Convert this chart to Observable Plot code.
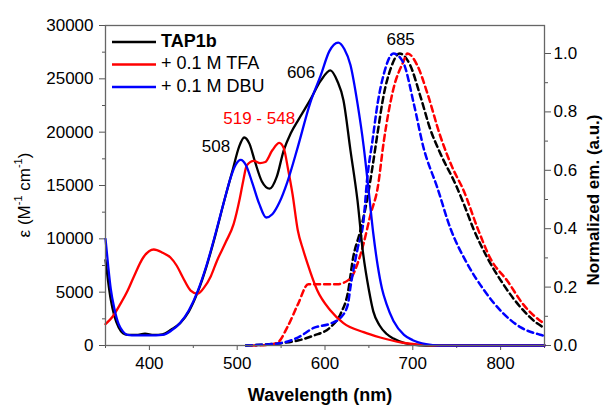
<!DOCTYPE html>
<html><head><meta charset="utf-8">
<script src="https://cdn.jsdelivr.net/npm/d3@7"></script>
<script src="https://cdn.jsdelivr.net/npm/@observablehq/plot@0.6"></script>
<style>body{margin:0;background:#fff;} svg{font-family: Arial, "Liberation Sans", sans-serif;}</style>
</head><body><div id="chart"></div>
<script>
// ---- Absorption (molar extinction, left axis) ----
const absWlBlack = [350,353,356,360,365,370,375,385,395,405,415,425,435,445,455,465,475,485,495,502,508,514,520,528,537,545,553,561,570,583,595,606,614,621,629,637,643,650,655,662,670,678,690,700,715,850];
const absBlack   = [8000,6000,4300,2800,1700,1150,1000,1000,1100,1000,1050,1500,2100,3200,5000,7400,10300,13500,16500,18600,19500,18900,17300,15400,14700,15800,18300,19900,21200,23000,24800,25800,24800,23000,18300,13600,8900,5200,3200,1900,1100,650,250,80,0,0];

const absWlRed = [350,358,367,375,382,393,405,415,424,431,438,447,455,462,470,477,487,496,503,507,511,519,526,532,540,548,553,558,563,569,575,580,591,606,621,644,663,686,705,725,850];
const absRed   = [2000,2700,3900,5100,6400,8250,9000,8700,8250,7500,6400,5150,4850,5400,6500,7950,9700,11400,13800,15500,16900,17300,17100,17200,18300,19000,18500,16500,14200,10800,9000,7700,5200,3300,2100,1250,750,300,100,0,0];

const absWlBlue = [350,353,356,360,365,370,375,385,400,415,425,435,445,455,465,475,485,492,498,504,510,517,525,533,540,548,557,569,583,595,605,615,622,629,637,644,650,655,660,665,670,678,690,700,715,730,850];
const absBlue   = [10000,7500,5300,3500,2000,1300,1000,950,950,1000,1400,2100,3300,5100,7500,10400,13500,15600,16900,17400,16900,15300,13300,12000,12300,13400,15300,18600,22700,25300,27600,28400,27800,26300,22700,18700,14300,10500,7500,5300,3900,2300,1000,500,130,0,0];

// ---- Normalized emission (right axis) ----
const emWlBlack = [510,530,550,569,587,606,618,626,632,640,648,654,660,667,675,685,697,709,720,731,749,760,769,785,803,823,842,850];
const emBlack   = [0,0.003,0.008,0.017,0.034,0.062,0.11,0.18,0.30,0.39,0.50,0.61,0.73,0.86,0.95,1.0,0.96,0.85,0.74,0.66,0.55,0.47,0.40,0.30,0.21,0.13,0.075,0.06];

const emWlRed = [515,535,546,557,569,581,595,614,629,637,644,652,660,667,678,689,694,705,717,731,745,758,774,788,808,826,845,850];
const emRed   = [0,0.002,0.01,0.062,0.14,0.21,0.21,0.21,0.23,0.28,0.35,0.45,0.54,0.70,0.88,0.97,1.0,0.96,0.86,0.72,0.61,0.53,0.40,0.30,0.22,0.14,0.085,0.075];

const emWlBlue = [510,530,549,569,587,606,618,626,629,637,644,648,654,660,667,678,689,701,712,728,743,762,781,803,823,845,850];
const emBlue   = [0,0.003,0.008,0.027,0.06,0.075,0.096,0.14,0.20,0.33,0.43,0.57,0.70,0.83,0.93,1.0,0.97,0.83,0.68,0.54,0.40,0.28,0.19,0.11,0.062,0.037,0.033];

// ---- Ticks / labels ----
const xTicks = [400,500,600,700,800];
const xMinor = [350,450,550,650,750,850];
const yTicks = [0,5000,10000,15000,20000,25000,30000];
const yMinor = [2500,7500,12500,17500,22500,27500];
const emTicks = [0,0.2,0.4,0.6,0.8,1.0];
const emMinor = [0.1,0.3,0.5,0.7,0.9];
const seriesNames = ["TAP1b","+ 0.1 M TFA","+ 0.1 M DBU"];
const colors = ["#000000","#ff0000","#0000ff"];
const peakLabels = ["508","519 - 548","606","685"];

const K = 27375; // 1.0 normalized emission in left-axis units

const rows = (wl, v) => wl.map((w,i)=>({wl:w, v:v[i]}));
const aB = rows(absWlBlack,absBlack), aR = rows(absWlRed,absRed), aU = rows(absWlBlue,absBlue);
const eB = rows(emWlBlack,emBlack), eR = rows(emWlRed,emRed), eU = rows(emWlBlue,emBlue);

const sw = 2.3, dash = "6,4";
const emLine = (d,c) => Plot.line(d,{x:"wl", y: r=>r.v*K, stroke:c, strokeWidth:2.5, strokeDasharray:dash, curve:"monotone-x"});
const abLine = (d,c) => Plot.line(d,{x:"wl", y:"v", stroke:c, strokeWidth:sw, curve:"monotone-x"});

const tickColor = "#555";
const plot = Plot.plot({
  width: 604, height: 407,
  marginLeft: 105, marginRight: 60, marginTop: 25, marginBottom: 62,
  style: {fontFamily: "Arial, 'Liberation Sans', sans-serif", fontSize: "17px", color: "#000", background: "#fff"},
  x: {domain: [350,850]},
  y: {domain: [0,30000]},
  marks: [
    Plot.axisY({ticks: yTicks, tickFormat: d => String(d), tickSize: 6, tickPadding: 6, label: null, fontSize: 17, stroke: tickColor}),
    Plot.axisY({ticks: yMinor, tickSize: 3, tickFormat: () => "", label: null, stroke: tickColor}),
    Plot.axisY({anchor: "right", ticks: emTicks.map(v=>v*K), tickFormat: d => (d/K).toFixed(1), tickSize: 6, tickPadding: 3, label: null, fontSize: 17, stroke: tickColor}),
    Plot.axisY({anchor: "right", ticks: emMinor.map(v=>v*K), tickFormat: () => "", tickSize: 3, label: null, stroke: tickColor}),
    Plot.axisX({ticks: xTicks, tickFormat: d => String(d), tickSize: 5, tickPadding: 6, label: null, fontSize: 17, stroke: tickColor}),
    Plot.axisX({ticks: xMinor, tickSize: 3, tickFormat: () => "", label: null, stroke: tickColor}),
    emLine(eB, colors[0]), emLine(eR, colors[1]), emLine(eU, colors[2]),
    abLine(aB, colors[0]), abLine(aR, colors[1]), abLine(aU, colors[2]),
    Plot.frame({stroke: "#666", strokeWidth: 1.3}),
    Plot.text([peakLabels[0]], {x: () => 508, y: () => 19500, text: d=>d, textAnchor: "end", dx: -14, dy: 9, fontSize: 17, fill: "#000"}),
    Plot.text([peakLabels[1]], {x: () => 533, y: () => 19000, text: d=>d, textAnchor: "middle", dx: -7, dy: -24, fontSize: 17, fill: "#ff0000"}),
    Plot.text([peakLabels[2]], {x: () => 606, y: () => 25800, text: d=>d, textAnchor: "end", dx: -15, dy: 2, fontSize: 17, fill: "#000"}),
    Plot.text([peakLabels[3]], {x: () => 685, y: () => 1.0*K, text: d=>d, textAnchor: "middle", dx: 1, dy: -14, fontSize: 17, fill: "#000"})
  ]
});
document.getElementById("chart").appendChild(plot);

// ---- axis titles & legend ----
const svg = d3.select(plot);
svg.append("text").attr("x", 320).attr("y", 396).attr("text-anchor","middle").attr("dominant-baseline","middle")
  .attr("font-size", 18).attr("font-weight","bold").attr("fill","#000").text("Wavelength (nm)");
const yl = svg.append("text").attr("transform","translate(26,195) rotate(-90)").attr("text-anchor","middle")
  .attr("dominant-baseline","middle").attr("font-size",17).attr("fill","#000");
yl.append("tspan").text("ε (M");
yl.append("tspan").attr("font-size",11).attr("dy",-7).text("-1");
yl.append("tspan").attr("dy",7).text(" cm");
yl.append("tspan").attr("font-size",11).attr("dy",-7).text("-1");
yl.append("tspan").attr("dy",7).text(")");
svg.append("text").attr("transform","translate(595,200) rotate(-90)").attr("text-anchor","middle")
  .attr("dominant-baseline","middle").attr("font-size",17).attr("font-weight","bold").attr("fill","#000").text("Normalized em. (a.u.)");
const lg = svg.append("g");
seriesNames.forEach((name,i) => {
  const y = 42 + i*22.5;
  lg.append("line").attr("x1",112).attr("x2",156).attr("y1",y).attr("y2",y).attr("stroke",colors[i]).attr("stroke-width",2.3);
  lg.append("text").attr("x",161).attr("y",y).attr("text-anchor","start").attr("dominant-baseline","middle").attr("font-size",18)
    .attr("font-weight", i===0 ? "bold" : "normal").attr("fill","#000").text(name);
});
</script></body></html>
